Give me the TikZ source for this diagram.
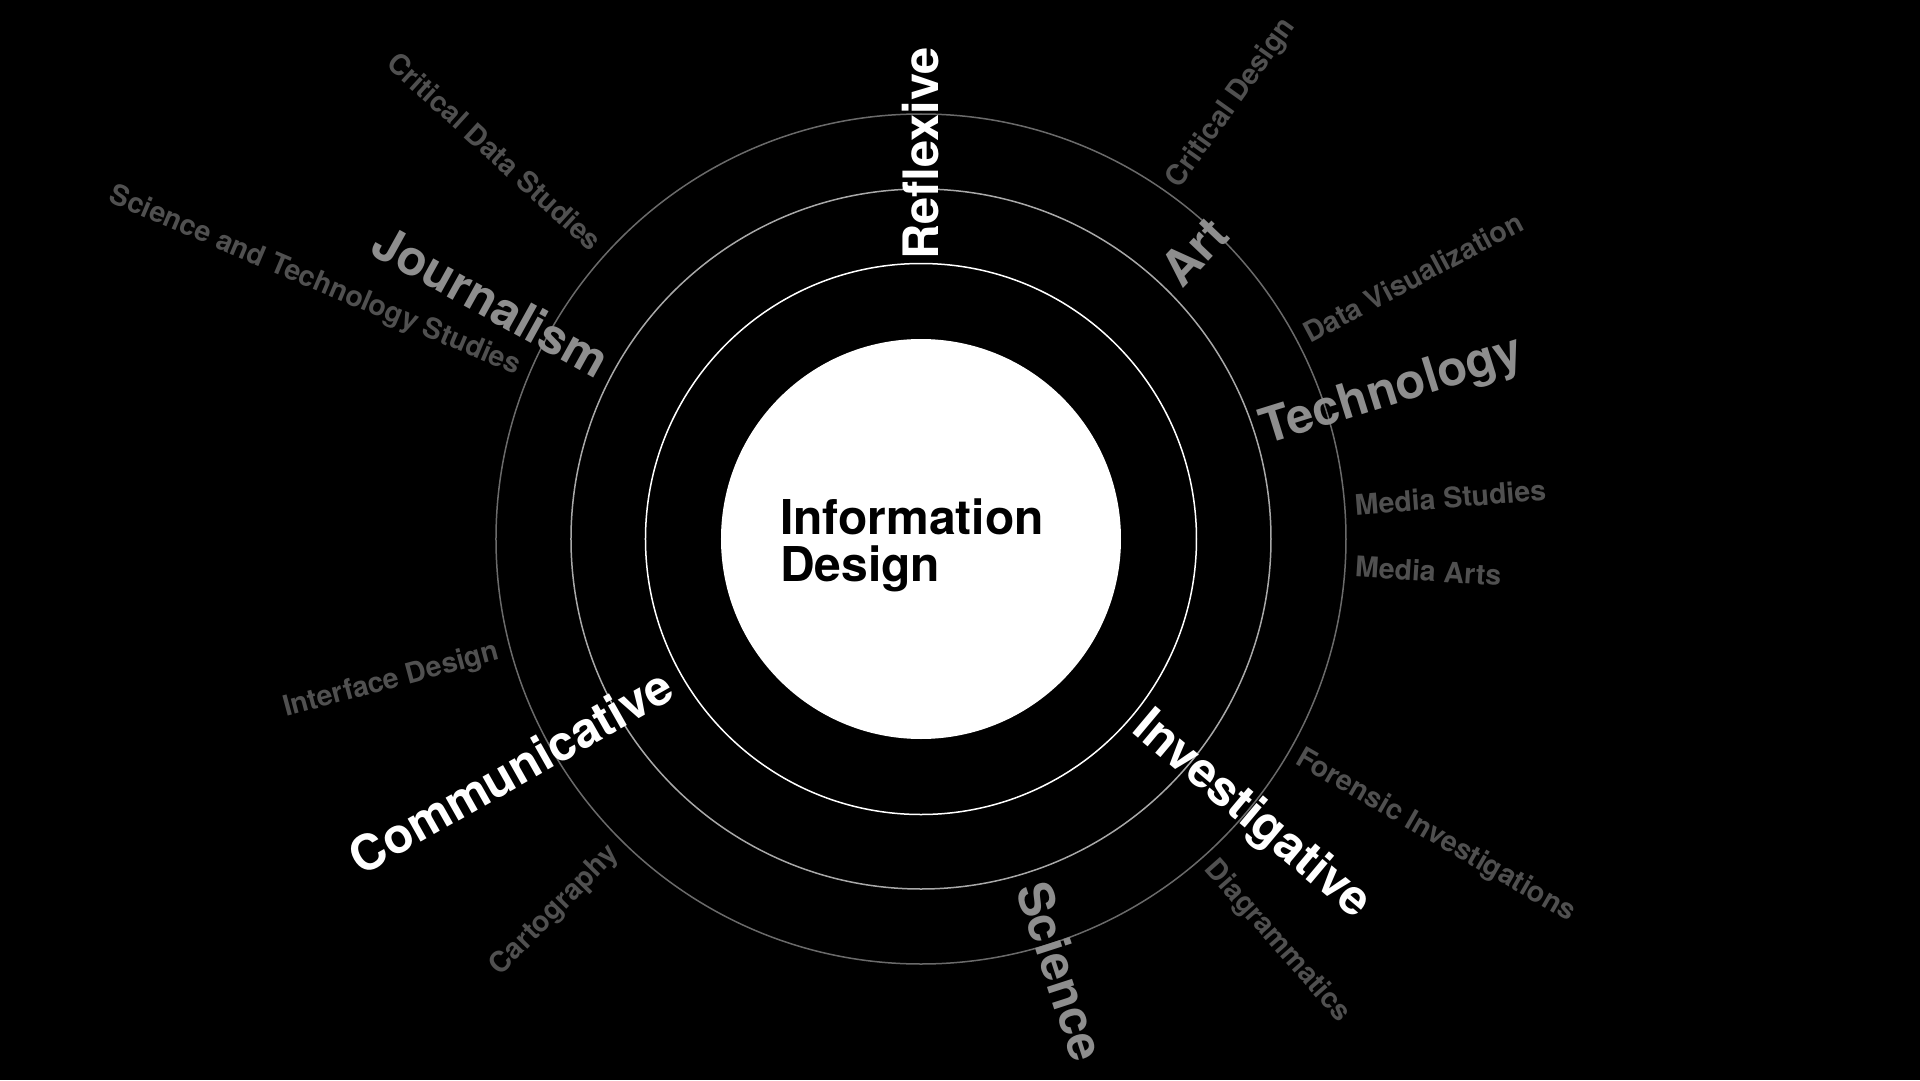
\documentclass[tikz,border=0pt]{standalone}
\usepackage{fontspec}
\setmainfont{TeX Gyre Heros}
\definecolor{fieldgray}{HTML}{8E8E8E}
\definecolor{subgray}{HTML}{505050}
\definecolor{ringlight}{HTML}{A8A8A8}
\definecolor{ringdark}{HTML}{6A6A6A}

\begin{document}
\begin{tikzpicture}[x=1pt, y=1pt,
    ring/.style={line width=1.5pt},
    field/.style={font=\fontsize{48.8}{48.8}\selectfont\bfseries, inner sep=0pt},
    subfield/.style={font=\fontsize{28.5}{28.5}\selectfont\bfseries, text=subgray, inner sep=0pt}]

    \fill[black] (-921,-541) rectangle (999,539);
    \useasboundingbox (-921,-541) rectangle (999,539);

    % rings
    \draw[ring, white] (0,0) circle (275.5pt);
    \draw[ring, ringlight] (0,0) circle (350pt);
    \draw[ring, ringdark] (0,0) circle (425pt);
    \fill[white] (0,0) circle (200pt);

    \node[font=\fontsize{48}{46.5}\selectfont\bfseries, align=left, anchor=north west, inner sep=0pt] (info) at (-141,40) {Information\\Design};

    % labels reading outwards
    \foreach \a/\txt/\col/\r [count=\i] in {90/Reflexive/white/279, -40/Investigative/white/284,
        46.5/Art/fieldgray/361, 17.3/Technology/fieldgray/358, -72/Science/fieldgray/362}
        \node[field, text=\col, rotate=\a, anchor=west] (out-\i) at (\a:\r) {\txt};

    % labels reading inwards
    \foreach \a/\txt/\col/\r [count=\i] in {209.5/Communicative/white/290, 151/Journalism/fieldgray/361}
        \node[field, text=\col, rotate=\a-180, anchor=east] (in-\i) at (\a:\r) {\txt};

    \foreach \a/\txt [count=\i] in {54.5/Critical Design, 28/Data Visualization, 4.5/Media Studies,
        -3.6/Media Arts, -30/Forensic Investigations, -48.5/Diagrammatics}
        \node[subfield, rotate=\a, anchor=west] (subout-\i) at (\a:435) {\txt};

    \foreach \a/\txt [count=\i] in {137.7/Critical Data Studies, 157/Science and Technology Studies,
        195/Interface Design, 225.4/Cartography}
        \node[subfield, rotate=\a-180, anchor=east] (subin-\i) at (\a:437) {\txt};

\end{tikzpicture}
\end{document}
